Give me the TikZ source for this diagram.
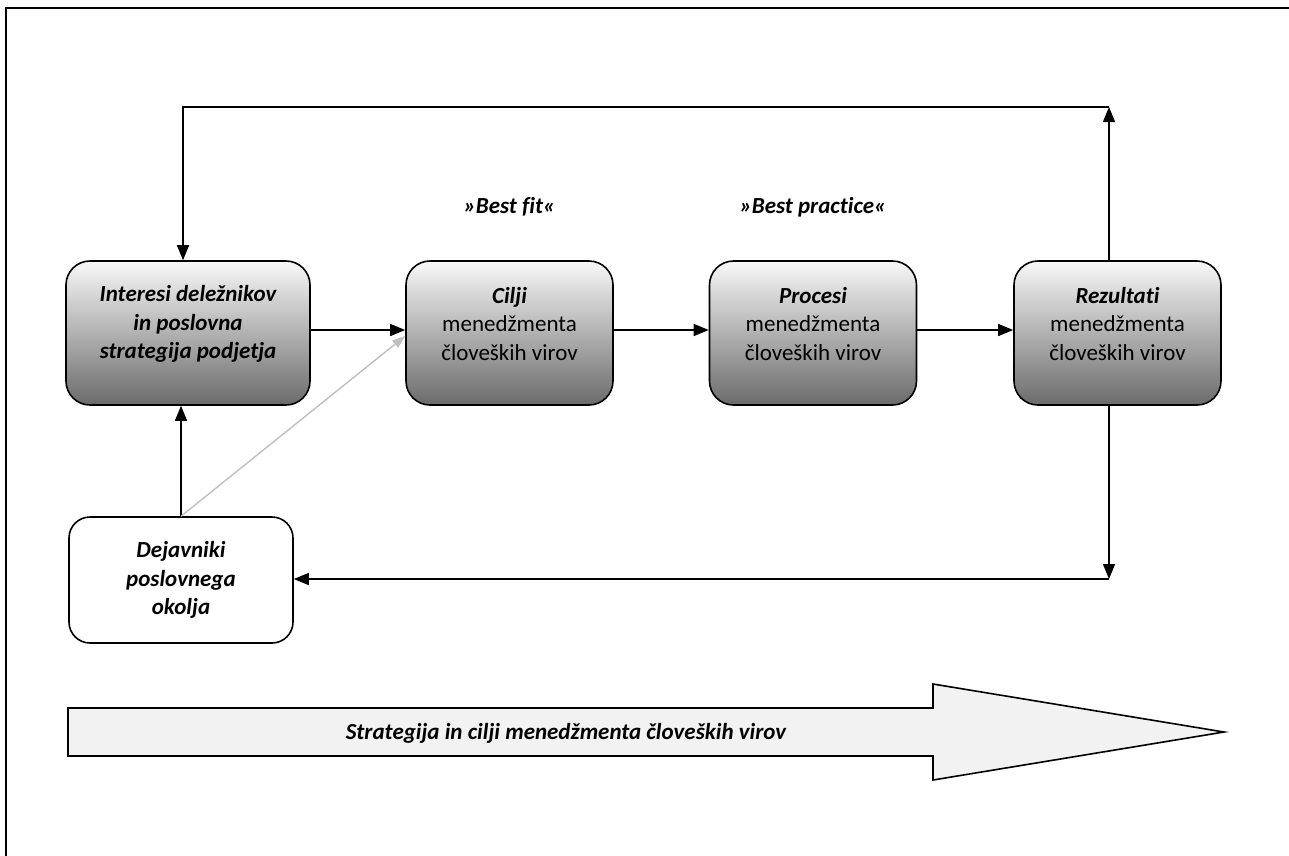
\documentclass[tikz,border=0pt]{standalone}
\usepackage{fontspec}
\setmainfont{Carlito}[Ligatures={NoCommon,NoContextual}]
\usetikzlibrary{arrows.meta,calc}
\begin{document}
\begin{tikzpicture}[x=1pt,y=-1pt,
  box/.style={draw=black, line width=1.6pt, rounded corners=24pt,
    top color=black!3, bottom color=black!58,
    minimum width=207pt, minimum height=144pt, inner sep=0pt},
  envbox/.style={draw=black, line width=1.6pt, rounded corners=21pt, fill=white,
    minimum width=224pt, minimum height=126pt, inner sep=0pt},
  lbl/.style={font=\fontsize{23}{28.5}\selectfont, align=center, inner sep=0pt},
  bi/.style={font=\fontsize{23}{28.5}\selectfont\bfseries\itshape, align=center, inner sep=0pt},
  arr/.style={draw=black, line width=1.4pt, -{Triangle[length=15pt,width=12pt]}},
  grayarr/.style={draw=black!25, line width=1.4pt, -{Triangle[length=13pt,width=9pt]}},
  bigarrow/.style={draw=black, line width=1.6pt, fill=black!5}
]
\useasboundingbox (0,0) rectangle (1289,855);

% outer frame
\draw[line width=2pt] (6,870) -- (6,8) -- (1300,8);

% process boxes
\node[box, minimum width=244pt] (b1) at (188,333) {};
\node[box] (b2) at (509.5,333) {};
\node[box] (b3) at (813,333) {};
\node[box] (b4) at (1117.5,333) {};
\node[envbox] (b5) at (181,580) {};

% box texts
\node[bi] (t1) at ($(b1.center)+(0,-9)$) {Interesi deležnikov\\in poslovna\\strategija podjetja};
\node[lbl] (t2) at ($(b2.center)+(0,-9)$) {\textbf{\textit{Cilji}}\\menedžmenta\\človeških virov};
\node[lbl] (t3) at ($(b3.center)+(0,-9)$) {\textbf{\textit{Procesi}}\\menedžmenta\\človeških virov};
\node[lbl] (t4) at ($(b4.center)+(0,-9)$) {\textbf{\textit{Rezultati}}\\menedžmenta\\človeških virov};
\node[bi] (t5) at (b5.center) {Dejavniki\\poslovnega\\okolja};

% headings above the chain
\node[bi] (fit) at (509.5,207) {»Best fit«};
\node[bi] (practice) at (813,207) {»Best practice«};

% feedback corners
\coordinate (tr) at (1109,107);
\coordinate (tl) at (183,107);
\coordinate (br) at (1109,579);

% main chain
\draw[arr] ($(b1.east)+(0,-3)$) -- ($(b2.west)+(0,-3)$);
\draw[arr] ($(b2.east)+(0,-3)$) -- ($(b3.west)+(0,-3)$);
\draw[arr] ($(b3.east)+(0,-3)$) -- ($(b4.west)+(0,-3)$);

% feedback loops
\draw[arr] (b4.north -| tr) -- (tr);
\draw[arr] (tr) -- (tl) -- (b1.north -| tl);
\draw[arr] (b4.south -| br) -- (br);
\draw[arr] (br) -- (br -| b5.east);

% environment influences
\draw[arr] (b5.north) -- (b1.south -| b5.north);
\draw[grayarr] (b5.north) -- ($(b2.west)+(0,3)$);

% strategy arrow
\draw[bigarrow] (68,708) -- (933,708) -- (933,684) -- (1224,732)
  -- (933,780) -- (933,756) -- (68,756) -- cycle;
\node[bi] (strat) at (566,733)
  {Strategija in cilji menedžmenta človeških virov};
\end{tikzpicture}
\end{document}
